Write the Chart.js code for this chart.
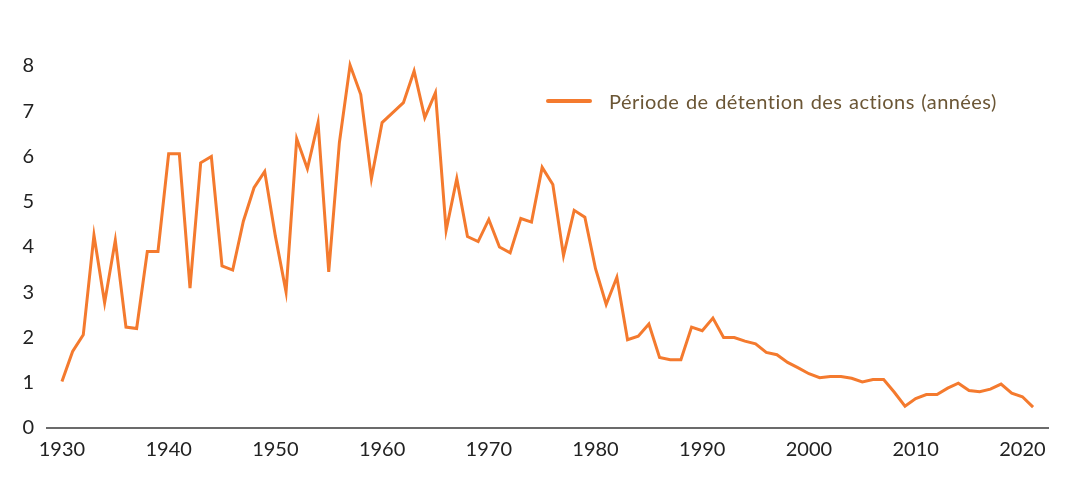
<!DOCTYPE html>
<html lang="fr">
<head>
<meta charset="utf-8">
<title>Période de détention des actions</title>
<script src="https://cdn.jsdelivr.net/npm/chart.js@4"></script>
<style>
    html, body { margin: 0; padding: 0; background: #fff; }
    .graph { position: relative; width: 1079px; height: 490px; }
    .legend { position: absolute; left: 546px; top: 89px; display: flex; align-items: center;
              font-family: Lato, sans-serif; font-size: 20px; letter-spacing: 0.45px; word-spacing: 1px;
              color: #6b5635; white-space: nowrap; }
    .legend .swatch { width: 46px; height: 4px; border-radius: 2px; margin-right: 17px; }
</style>
</head>
<body>
<div class="graph">
    <canvas id="chart"></canvas>
    <div class="legend" id="legend"></div>
</div>
<script>
const years = [
    1930, 1931, 1932, 1933, 1934, 1935, 1936, 1937, 1938, 1939,
    1940, 1941, 1942, 1943, 1944, 1945, 1946, 1947, 1948, 1949,
    1950, 1951, 1952, 1953, 1954, 1955, 1956, 1957, 1958, 1959,
    1960, 1961, 1962, 1963, 1964, 1965, 1966, 1967, 1968, 1969,
    1970, 1971, 1972, 1973, 1974, 1975, 1976, 1977, 1978, 1979,
    1980, 1981, 1982, 1983, 1984, 1985, 1986, 1987, 1988, 1989,
    1990, 1991, 1992, 1993, 1994, 1995, 1996, 1997, 1998, 1999,
    2000, 2001, 2002, 2003, 2004, 2005, 2006, 2007, 2008, 2009,
    2010, 2011, 2012, 2013, 2014, 2015, 2016, 2017, 2018, 2019,
    2020, 2021
];

// durée moyenne de détention, en années
const holdingPeriod = [
    1.03, 1.69, 2.06, 4.26, 2.77, 4.15, 2.23, 2.20, 3.90, 3.90,
    6.06, 6.06, 3.09, 5.86, 6.00, 3.58, 3.49, 4.57, 5.31, 5.67,
    4.24, 3.01, 6.39, 5.73, 6.75, 3.45, 6.31, 8.02, 7.37, 5.51,
    6.75, 6.97, 7.19, 7.89, 6.86, 7.41, 4.37, 5.51, 4.23, 4.12,
    4.61, 4.00, 3.87, 4.63, 4.55, 5.76, 5.38, 3.81, 4.81, 4.66,
    3.52, 2.73, 3.33, 1.95, 2.03, 2.30, 1.56, 1.51, 1.51, 2.23,
    2.15, 2.43, 2.00, 2.00, 1.92, 1.86, 1.67, 1.62, 1.45, 1.33,
    1.20, 1.11, 1.14, 1.14, 1.10, 1.02, 1.07, 1.07, 0.79, 0.48,
    0.65, 0.74, 0.74, 0.88, 0.99, 0.83, 0.80, 0.86, 0.97, 0.77,
    0.69, 0.46
];

const xTicks = [1930, 1940, 1950, 1960, 1970, 1980, 1990, 2000, 2010, 2020];
const yTicks = [0, 1, 2, 3, 4, 5, 6, 7, 8];

const seriesLabel = 'Période de détention des actions (années)';
const lineColor = '#f47a2e';

const tickFont = { family: 'Lato', size: 20 };

const chart = new Chart(document.getElementById('chart'), {
    type: 'line',
    data: {
        datasets: [{
            label: seriesLabel,
            data: years.map((year, i) => ({ x: year, y: holdingPeriod[i] })),
            borderColor: lineColor,
            backgroundColor: lineColor,
            borderWidth: 3,
            pointRadius: 0,
            tension: 0,
            clip: false
        }]
    },
    options: {
        responsive: true,
        maintainAspectRatio: false,
        animation: false,
        layout: { padding: { top: 66, right: 31, bottom: 0, left: 0 } },
        plugins: {
            legend: { display: false },
            tooltip: { enabled: false }
        },
        scales: {
            x: {
                type: 'linear',
                min: 1928.6,
                max: 2022.4,
                afterBuildTicks: scale => { scale.ticks = xTicks.map(v => ({ value: v })); },
                afterFit: scale => { scale.height = 62; },
                grid: { display: false, drawTicks: false },
                border: { display: true, color: '#6b6b6b', width: 2 },
                ticks: {
                    color: '#222',
                    font: tickFont,
                    padding: 10,
                    maxRotation: 0,
                    callback: v => String(v)
                }
            },
            y: {
                min: 0,
                max: 8,
                afterBuildTicks: scale => { scale.ticks = yTicks.map(v => ({ value: v })); },
                afterFit: scale => { scale.width = 47; },
                grid: { display: false, drawTicks: false },
                border: { display: false },
                ticks: {
                    color: '#222',
                    font: tickFont,
                    padding: 13
                }
            }
        }
    }
});

// légende HTML placée dans la zone du graphique
const legendEl = document.getElementById('legend');
chart.data.datasets.forEach(ds => {
    const swatch = document.createElement('span');
    swatch.className = 'swatch';
    swatch.style.background = ds.borderColor;
    const text = document.createElement('span');
    text.textContent = ds.label;
    legendEl.appendChild(swatch);
    legendEl.appendChild(text);
});
</script>
</body>
</html>
